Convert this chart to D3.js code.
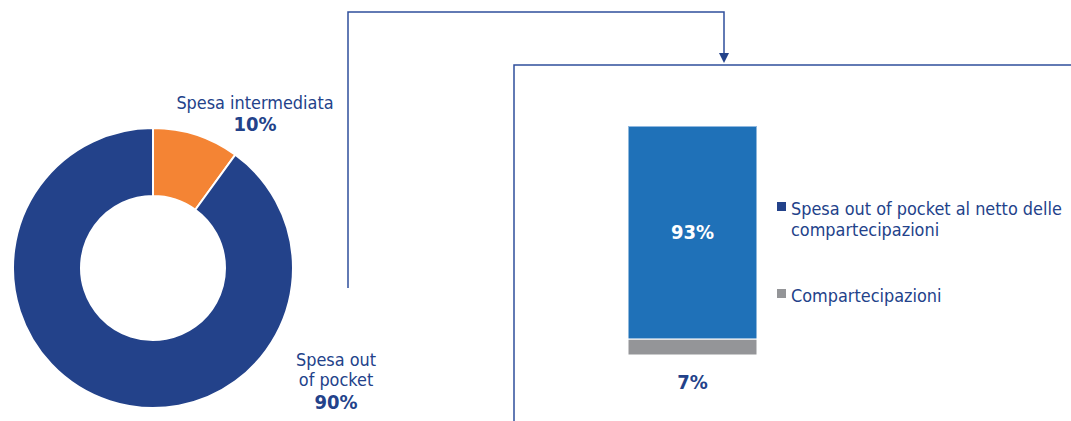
<!DOCTYPE html>
<html>
<head>
<meta charset="utf-8">
<script src="https://cdn.jsdelivr.net/npm/d3@7"></script>
<style>
  html, body { margin: 0; padding: 0; background: #fff; }
  svg { display: block; font-family: "DejaVu Sans Condensed", "DejaVu Sans", sans-serif; }
</style>
</head>
<body>
<svg id="chart" width="1071" height="421"></svg>
<script>
// ---- data ----
const donutCategories = ["Spesa intermediata", "Spesa out of pocket"];
const donutValues = [10, 90];
const donutLabels = [["Spesa intermediata"], ["Spesa out", "of pocket"]];
const donutPct = ["10%", "90%"];

const barSeries = ["Compartecipazioni", "Spesa out of pocket al netto delle compartecipazioni"];
const barValues = [7, 93];
const barPct = ["7%", "93%"];
const legendLabels = [["Spesa out of pocket al netto delle", "compartecipazioni"], ["Compartecipazioni"]];

// ---- styles ----
const navy = "#23428a";
const orange = "#f48434";
const barBlue = "#1f71b8";
const gray = "#949598";
const lineColor = "#2f4f9c";
const fs = 17.9, fsBold = 20;

const svg = d3.select("#chart");

// ---- connector lines ----
const conn = d3.path();
conn.moveTo(348, 288); conn.lineTo(348, 12); conn.lineTo(724, 12); conn.lineTo(724, 56);
svg.append("path").attr("d", conn.toString()).attr("fill", "none")
  .attr("stroke", lineColor).attr("stroke-width", 1.5);
svg.append("path").attr("d", "M719,53 L729,53 L724,63 Z").attr("fill", navy);

const box = d3.path();
box.moveTo(1075, 65); box.lineTo(514, 65); box.lineTo(514, 425);
svg.append("path").attr("d", box.toString()).attr("fill", "none")
  .attr("stroke", lineColor).attr("stroke-width", 1.5);

// ---- donut ----
const cx = 153, cy = 268;
const pie = d3.pie().sort(null).value(d => d)(donutValues);
const arc = d3.arc().innerRadius(72).outerRadius(140);
const colorScale = d3.scaleOrdinal().domain(donutCategories).range([orange, navy]);
const g = svg.append("g").attr("transform", `translate(${cx},${cy})`);
g.selectAll("path").data(pie).join("path")
  .attr("d", arc)
  .attr("fill", (d, i) => colorScale(donutCategories[i]))
  .attr("stroke", "#fff").attr("stroke-width", 2);

// donut labels
const donutLabelPos = [{x: 255, y: 109}, {x: 336, y: 366}];
donutLabels.forEach((lines, i) => {
  const p = donutLabelPos[i];
  const t = svg.append("text").attr("text-anchor", "middle").attr("fill", navy).attr("font-size", fs);
  lines.forEach((l, j) => t.append("tspan").attr("x", p.x).attr("y", p.y + j * 20).text(l));
  t.append("tspan").attr("x", p.x).attr("y", p.y + lines.length * 21 + 1)
    .attr("font-weight", "bold").attr("font-size", fsBold).text(donutPct[i]);
});

// ---- stacked bar ----
const y = d3.scaleLinear().domain([0, 100]).range([355, 126]);
const x = d3.scaleBand().domain(["bar"]).range([628, 757]).padding(0);
const barColors = [gray, barBlue];
let acc = 0;
const stacks = barValues.map((v, i) => { const s = {y0: acc, y1: acc + v, i}; acc += v; return s; });
svg.selectAll("rect.seg").data(stacks).join("rect").attr("class", "seg")
  .attr("x", x("bar")).attr("width", x.bandwidth())
  .attr("y", d => y(d.y1)).attr("height", d => y(d.y0) - y(d.y1))
  .attr("fill", d => barColors[d.i])
  .attr("stroke", "#fff").attr("stroke-width", 1);
svg.append("line").attr("x1", x("bar")).attr("x2", x("bar") + x.bandwidth())
  .attr("y1", y(100) + 0.5).attr("y2", y(100) + 0.5).attr("stroke", "#8fb8e0").attr("stroke-width", 1);

// bar labels
const xc = x("bar") + x.bandwidth() / 2;
svg.append("text").attr("x", xc).attr("y", (y(stacks[1].y0) + y(stacks[1].y1)) / 2 + 7)
  .attr("text-anchor", "middle").attr("fill", "#fff").attr("font-weight", "bold").attr("font-size", fsBold)
  .text(barPct[1]);
svg.append("text").attr("x", xc).attr("y", 389)
  .attr("text-anchor", "middle").attr("fill", navy).attr("font-weight", "bold").attr("font-size", fsBold)
  .text(barPct[0]);

// ---- legend ----
const legendColors = [navy, gray];
const legendY = [215, 302];
legendLabels.forEach((lines, i) => {
  svg.append("rect").attr("x", 777).attr("y", legendY[i] - 13).attr("width", 9).attr("height", 9)
    .attr("fill", legendColors[i]);
  const t = svg.append("text").attr("fill", navy).attr("font-size", fs);
  lines.forEach((l, j) => t.append("tspan").attr("x", 791).attr("y", legendY[i] + j * 21).text(l));
});
</script>
</body>
</html>
